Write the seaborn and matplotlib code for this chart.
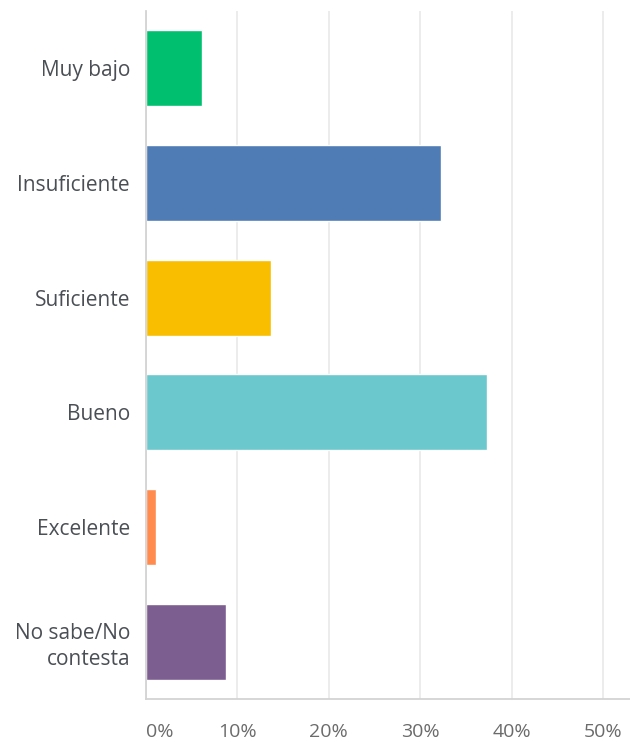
import matplotlib
matplotlib.use("Agg")
import matplotlib.pyplot as plt
import seaborn as sns
import pandas as pd

sns.set_theme(style="white")
plt.rcParams['font.family'] = ['Open Sans', 'DejaVu Sans']

categories = ["Muy bajo", "Insuficiente", "Suficiente", "Bueno", "Excelente", "No sabe/No\ncontesta"]
percent = [6.1, 32.3, 13.7, 37.3, 1.1, 8.7]
colors = ["#00BF6F", "#507CB6", "#F9BE00", "#6BC8CD", "#FF8B4F", "#7D5E90"]
ticks = [0, 10, 20, 30, 40, 50]
tick_labels = ["0%", "10%", "20%", "30%", "40%", "50%"]

df = pd.DataFrame({"cat": categories, "pct": percent})

fig = plt.figure(figsize=(6.3, 7.42), dpi=100)
ax = fig.add_axes([146 / 630, 1 - 699 / 742, 484 / 630, (699 - 11) / 742])

sns.barplot(data=df, x="pct", y="cat", hue="cat", palette=colors, legend=False,
            width=0.66, saturation=1, ax=ax, orient="h")

ax.set_xlim(0, 52.95)
ax.set_ylim(5.5, -0.5)
ax.set_xticks(ticks)
ax.set_xticklabels(tick_labels)
ax.set_xlabel("")
ax.set_ylabel("")
ax.set_axisbelow(True)
ax.grid(axis="x", color="#e9e9e9", linewidth=1.2)
ax.grid(axis="y", visible=False)

for s in ["top", "right"]:
    ax.spines[s].set_visible(False)
for s in ["left", "bottom"]:
    ax.spines[s].set_color("#d3d3d3")
    ax.spines[s].set_linewidth(1.3)

ax.tick_params(axis="x", length=0, pad=17, labelsize=14, labelcolor="#6b6b6b")
ax.tick_params(axis="y", length=0, pad=11.5, labelsize=15, labelcolor="#4a4f55")
xl = ax.get_xticklabels()
xl[0].set_horizontalalignment("left")
for lab in ax.get_yticklabels():
    lab.set_horizontalalignment("right")
    lab.set_multialignment("right")
    lab.set_linespacing(1.3)

fig.savefig("out.png", dpi=100)
